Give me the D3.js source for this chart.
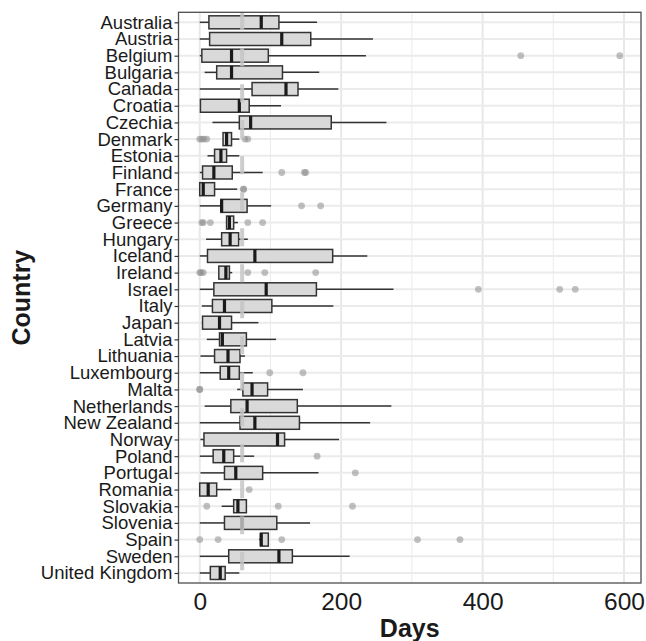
<!DOCTYPE html>
<html>
<head>
<meta charset="utf-8">
<script src="https://cdn.jsdelivr.net/npm/d3@7"></script>
<style>
  body { margin: 0; background: #fff; }
  text { font-family: "Liberation Sans", Arial, sans-serif; }
</style>
</head>
<body>
<script>
// values (days)
var countries = ["Australia","Austria","Belgium","Bulgaria","Canada","Croatia","Czechia","Denmark",
  "Estonia","Finland","France","Germany","Greece","Hungary","Iceland","Ireland","Israel","Italy",
  "Japan","Latvia","Lithuania","Luxembourg","Malta","Netherlands","New Zealand","Norway","Poland",
  "Portugal","Romania","Slovakia","Slovenia","Spain","Sweden","United Kingdom"];
var whiskLo = [0,0,0,7,0,1,18,33, 11,0,0,0,37,9,0,27,0,3, 3,10,1,0,53,7,0,1,0, 1,0,31,0,84,0,0];
var q1      = [13,14,3,24,74,1,56,33, 21,4,0,30,38,31,11,27,20,18, 4,28,21,29,61,44,57,6,19, 35,0,48,35,86,41,15];
var med     = [87,116,45,45,122,56,72,38, 30,20,5,31,42,43,78,37,94,35, 28,32,40,41,74,67,78,110,34, 51,12,54,60,87,112,29];
var q3      = [112,157,97,117,139,70,186,45, 38,46,21,67,48,55,188,42,165,102, 45,66,57,56,96,138,141,120,48, 89,24,66,109,97,131,36];
var whiskHi = [166,245,235,169,196,115,264,56, 56,89,53,101,54,68,237,46,274,189, 83,108,64,75,146,271,241,197,77, 168,45,66,156,97,212,56];
var outliers = [[],[],[454,594],[],[],[],[],[0,3,6,10,64,68],
  [],[116,148,150],[62,62],[144,171],[3,5,15,68,89],[],[],[0,2,5,68,92,164],[394,509,531],[],
  [],[],[],[99,146],[0,0],[],[],[],[166],
  [220],[70],[10,111,216],[],[0,26,116,308,368],[],[]];
var xTicks = [0,200,400,600];
var xMinor = [100,300,500];
var refDays = 60;

var W = 646, H = 641;
var pLeft = 178.5, pRight = 641, pTop = 12.3, pBottom = 583;

var svg = d3.select("body").append("svg").attr("width", W).attr("height", H);

var x = d3.scaleLinear().domain([-30, 624]).range([pLeft, pRight]);
var y = d3.scalePoint().domain(countries).range([pTop, pBottom]).padding(0.6);
var boxH = 13;

var data = countries.map(function(c, i) {
  return {name: c, lo: whiskLo[i], q1: q1[i], med: med[i], q3: q3[i], hi: whiskHi[i], out: outliers[i]};
});

// grid
var grid = svg.append("g");
grid.selectAll("line.minor").data(xMinor).enter().append("line")
  .attr("x1", function(d){return x(d);}).attr("x2", function(d){return x(d);})
  .attr("y1", pTop).attr("y2", pBottom).attr("stroke", "#ebebeb").attr("stroke-width", 1);
grid.selectAll("line.major").data(xTicks).enter().append("line")
  .attr("x1", function(d){return x(d);}).attr("x2", function(d){return x(d);})
  .attr("y1", pTop).attr("y2", pBottom).attr("stroke", "#e8e8e8").attr("stroke-width", 2);
grid.selectAll("line.h").data(countries).enter().append("line")
  .attr("x1", pLeft).attr("x2", pRight)
  .attr("y1", function(d){return y(d);}).attr("y2", function(d){return y(d);})
  .attr("stroke", "#ebebeb").attr("stroke-width", 2);

// boxes
var rows = svg.append("g").selectAll("g").data(data).enter().append("g")
  .attr("transform", function(d){ return "translate(0," + y(d.name) + ")"; });

rows.append("line").attr("x1", function(d){return x(d.lo);}).attr("x2", function(d){return x(d.q1);})
  .attr("stroke", "#333").attr("stroke-width", 1.5);
rows.append("line").attr("x1", function(d){return x(d.q3);}).attr("x2", function(d){return x(d.hi);})
  .attr("stroke", "#333").attr("stroke-width", 1.5);
rows.append("rect")
  .attr("x", function(d){return x(d.q1);}).attr("y", -boxH/2)
  .attr("width", function(d){return Math.max(0, x(d.q3) - x(d.q1));}).attr("height", boxH)
  .attr("fill", "#d9d9d9").attr("stroke", "#333").attr("stroke-width", 1.5);
rows.append("line").attr("x1", function(d){return x(d.med);}).attr("x2", function(d){return x(d.med);})
  .attr("y1", -boxH/2).attr("y2", boxH/2).attr("stroke", "#1a1a1a").attr("stroke-width", 3.2);
rows.selectAll("circle").data(function(d){return d.out;}).enter().append("circle")
  .attr("cx", function(d){return x(d);}).attr("cy", 0).attr("r", 3.4)
  .attr("fill", "#8c8c8c").attr("fill-opacity", 0.55);

// dashed reference line
svg.append("line").attr("x1", x(refDays)).attr("x2", x(refDays))
  .attr("y1", pTop).attr("y2", pBottom)
  .attr("stroke", "#c4c4c4").attr("stroke-opacity", 0.85).attr("stroke-width", 4)
  .attr("stroke-dasharray", "18,18");

// panel border
svg.append("rect").attr("x", pLeft).attr("y", pTop).attr("width", pRight - pLeft).attr("height", pBottom - pTop)
  .attr("fill", "none").attr("stroke", "#4d4d4d").attr("stroke-width", 1.3);

// axes
var yAxis = svg.append("g").attr("transform", "translate(" + pLeft + ",0)")
  .call(d3.axisLeft(y).tickSize(4).tickPadding(2));
yAxis.select(".domain").remove();
yAxis.selectAll("line").attr("stroke", "#333").attr("stroke-width", 1.2);
yAxis.selectAll("text").attr("font-size", 18.5).attr("fill", "#1a1a1a")
  .attr("font-family", "Liberation Sans, Arial, sans-serif");

var xAxis = svg.append("g").attr("transform", "translate(0," + pBottom + ")")
  .call(d3.axisBottom(x).tickValues(xTicks).tickSize(0).tickPadding(4));
xAxis.select(".domain").remove();
xAxis.selectAll("text").attr("font-size", 24.5).attr("fill", "#1a1a1a").attr("dy", "0.95em")
  .attr("font-family", "Liberation Sans, Arial, sans-serif");

svg.append("text").attr("x", (pLeft + pRight) / 2).attr("y", 637)
  .attr("text-anchor", "middle").attr("font-size", 25).attr("font-weight", "bold").attr("fill", "#1a1a1a")
  .text("Days");
svg.append("text").attr("transform", "translate(30," + ((pTop + pBottom) / 2) + ") rotate(-90)")
  .attr("text-anchor", "middle").attr("font-size", 25).attr("font-weight", "bold").attr("fill", "#1a1a1a")
  .text("Country");
</script>
</body>
</html>
